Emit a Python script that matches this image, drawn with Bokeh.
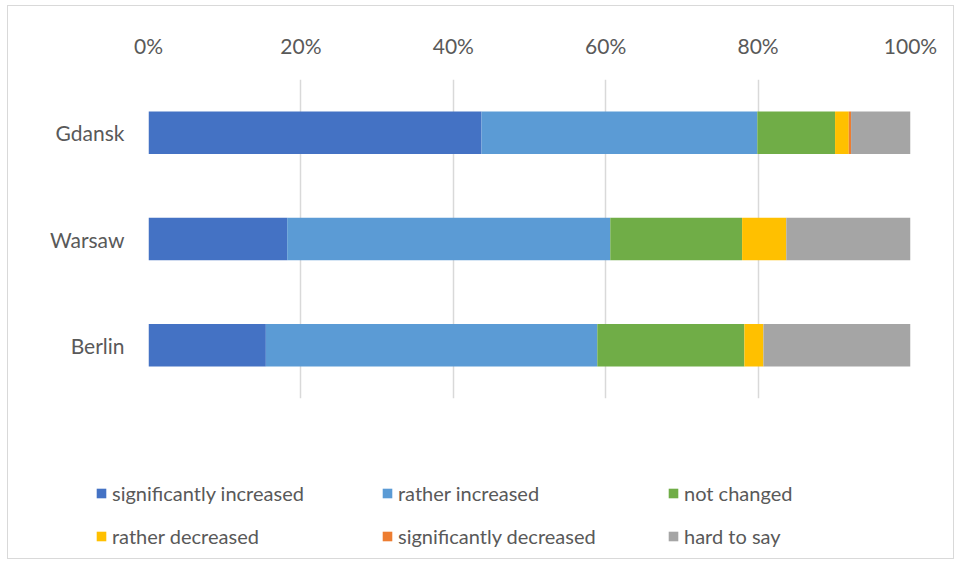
from bokeh.plotting import figure
from bokeh.layouts import column
from bokeh.models import ColumnDataSource, Legend, LegendItem, PrintfTickFormatter, FixedTicker
from bokeh.embed import file_html
from bokeh.resources import INLINE

cities = ["Berlin", "Warsaw", "Gdansk"]
series = ["significantly increased", "rather increased", "not changed",
          "rather decreased", "significantly decreased", "hard to say"]
sig_inc = [15.4, 18.2, 43.7]
rather_inc = [43.5, 42.4, 36.2]
not_changed = [19.3, 17.3, 10.2]
rather_dec = [2.5, 5.8, 1.8]
sig_dec = [0.0, 0.0, 0.3]
hard = [19.3, 16.3, 7.8]
colors = ["#4472C4", "#5B9BD5", "#70AD47", "#FFC000", "#ED7D31", "#A5A5A5"]
ticks = [0, 20, 40, 60, 80, 100]

keys = ["k0", "k1", "k2", "k3", "k4", "k5"]
src = ColumnDataSource(dict(city=cities, k0=sig_inc, k1=rather_inc, k2=not_changed,
                            k3=rather_dec, k4=sig_dec, k5=hard))

FONT = "Lato"
GREY = "#595959"

p = figure(y_range=cities, x_range=(0, 100), width=945, height=412,
           output_backend="svg", toolbar_location=None, x_axis_location="above",
           min_border_left=140, min_border_top=73, min_border_right=43, min_border_bottom=20)
p.frame_align = False
p.y_range.range_padding = 0

rs = p.hbar_stack(keys, y="city", height=0.4, color=colors, source=src, line_color=None)

p.outline_line_color = None
p.ygrid.grid_line_color = None
p.xgrid.grid_line_color = "#d9d9d9"
p.xgrid.grid_line_width = 1.5
p.xaxis.ticker = FixedTicker(ticks=ticks)
p.xaxis.formatter = PrintfTickFormatter(format="%d%%")
for ax in (p.xaxis, p.yaxis):
    ax.axis_line_color = None
    ax.major_tick_line_color = None
    ax.minor_tick_line_color = None
    ax.major_label_text_font = FONT
    ax.major_label_text_font_size = "21px"
    ax.major_label_text_color = GREY
p.xaxis.major_label_standoff = 16
p.yaxis.major_label_standoff = 18

# legend figure (swatches are kept outside its visible range)
p2 = figure(width=945, height=140, output_backend="svg", toolbar_location=None,
            x_range=(0, 1), y_range=(0, 1), min_border=0,
            x_axis_type=None, y_axis_type=None)
p2.frame_align = False
p2.outline_line_color = None
p2.grid.grid_line_color = None
lr = [p2.hbar(y=[-10], left=[0], right=[1], height=0.4, color=c, line_color=None) for c in colors]

order = [0, 3, 1, 4, 2, 5]  # row-major reading in a 3-column legend
items = [LegendItem(label=series[i], renderers=[lr[i]]) for i in order]
legend = Legend(items=items, ncols=3, location=(87, 6), padding=0, margin=0,
                border_line_color=None, background_fill_alpha=0,
                glyph_width=12, glyph_height=12, label_standoff=5,
                label_width=259, label_height=33, spacing=10,
                label_text_font=FONT, label_text_font_size="20px", label_text_color=GREY)
p2.add_layout(legend, "center")

layout = column(p, p2, spacing=0)
layout.margin = (5, 0, 0, 7)
layout.styles = {"border": "1px solid #d9d9d9"}

open("out.html", "w").write(file_html(layout, INLINE))
